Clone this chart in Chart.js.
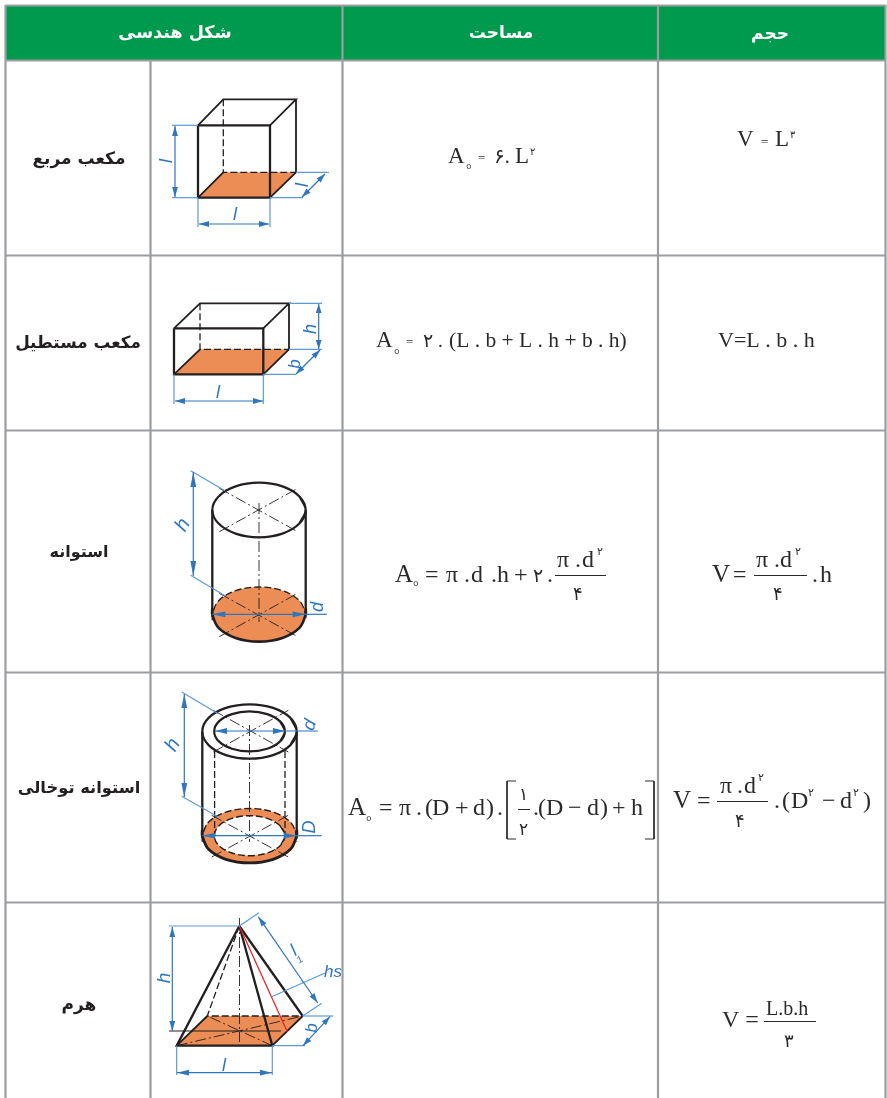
<!DOCTYPE html>
<html lang="fa"><head><meta charset="utf-8">
<script src="https://cdn.jsdelivr.net/npm/chart.js@4"></script>
<style>html,body{margin:0;padding:0;background:#fff}canvas{display:block}</style>
</head><body><canvas id="c" width="887" height="1098"></canvas>
<script>
// ---------- table ----------
const headerLabels=[['شکل هندسی',175,38,17.5],['مساحت',501,38,17],['حجم',770,39,17]];
const rowLabels=[['مکعب مربع',79,164,17],['مکعب مستطیل',78,348,16.8],['استوانه',79,557,16],['استوانه توخالی',79,793,16.3],['هرم',79,1010,17]];
const headerBand=[6,6,885,6,885,60,6,60];
const gridLines=[[5.5,5.5,885.5,5.5],[5.5,60.5,885.5,60.5],[5.5,255.5,885.5,255.5],[5.5,430.5,885.5,430.5],[5.5,672.5,885.5,672.5],[5.5,902.5,885.5,902.5],
 [5.5,5,5.5,1098],[150.5,60,150.5,1098],[342.5,5,342.5,1098],[658,5,658,1098],[885.5,5,885.5,1098]];
// ---------- ellipse outlines ----------
const cylTop=[305.7,510,299.4,523.6,282.4,533.6,259,537.3,235.6,533.6,218.6,523.6,212.3,510,218.6,496.4,235.6,486.4,259,482.7,282.4,486.4,299.4,496.4];
const cylBase=[305.7,614.3,299.4,627.9,282.4,637.9,259,641.6,235.6,637.9,218.6,627.9,212.3,614.3,218.6,600.7,235.6,590.7,259,587,282.4,590.7,299.4,600.7];
const tubeTopOuter=[296.7,731.5,290.4,745.1,273.1,755.1,249.5,758.7,225.9,755.1,208.6,745.1,202.3,731.5,208.6,717.9,225.9,707.9,249.5,704.3,273.1,707.9,290.4,717.9];
const tubeTopInner=[284.9,731.4,280.1,741.4,267.2,748.7,249.5,751.4,231.9,748.7,218.9,741.4,214.2,731.4,218.9,721.4,231.9,714.1,249.5,711.4,267.2,714.1,280.1,721.4];
const tubeBaseOuter=[296.7,835.7,290.4,849.3,273.1,859.3,249.5,862.9,225.9,859.3,208.6,849.3,202.3,835.7,208.6,822.1,225.9,812.1,249.5,808.5,273.1,812.1,290.4,822.1];
const tubeBaseInner=[284.9,835.7,280.1,845.7,267.2,853,249.5,855.7,231.9,853,218.9,845.7,214.2,835.7,218.9,825.7,231.9,818.4,249.5,815.7,267.2,818.4,280.1,825.7];
// ---------- filled floors ----------
const floorPolys=[[198,197.7,270,197.7,296,172.3,223.3,172.3],[174,374.3,263.3,374.3,289,349.3,200,349.3],[176.7,1045.7,272.3,1045.7,302.7,1016,207.3,1016]];
// ---------- solid black edges ----------
const heavyEdges=[[198,125.3,270,125.3,270,197.7,198,197.7,198,125.3],[174,328.3,263.3,328.3,263.3,374.3,174,374.3,174,328.3],
 [212.3,510,212.3,614.3],[305.7,510,305.7,614.3],[202.3,731.5,202.3,835.7],[296.7,731.5,296.7,835.7],
 [239.3,926,176.7,1045.7,272.3,1045.7,239.3,926],[239.3,926,302.7,1016]];
const lightEdges=[[198,125.3,223.3,99.3,296,99.3,270,125.3],[296,99.3,296,172.3,270,197.7],[198,197.7,223.3,172.3],
 [174,328.3,200,303.3,289,303.3,263.3,328.3],[289,303.3,289,349.3,263.3,374.3],[174,374.3,200,349.3],
 [272.3,1045.7,302.7,1016],[176.7,1045.7,207.3,1016]];
const dashedEdges=[[223.3,99.3,223.3,172.3,296,172.3],[200,303.3,200,349.3,289,349.3],[214.6,751,214.6,835.7],[285,751,285,835.7],[239.3,926,207.3,1016,302.7,1016]];
const centerLines=[[259,503,259,622],[219.3,531.7,297.7,488.3],[219.3,488.3,297.7,531.7],[219.3,636.7,297.7,593.3],[219.3,593.3,297.7,636.7],
 [249.5,725,249.5,842],[213.3,752,288.3,710.3],[213.3,710.3,288.3,752],[211.7,857,288.3,815.3],[211.7,815.3,288.3,857],
 [239.5,918,239.5,1042],[176.7,1045.7,302.7,1016],[272.3,1045.7,207.3,1016]];
const redEdges=[[239.3,926,287.3,1031.7]];
const darkThin=[[169,1031,281,1031]];
// ---------- blue dimension work ----------
const extLines=[[172,125.3,198,125.3],[172,197.7,198,197.7],[198,198,198,227],[270,198,270,227],[270,197.7,303,197.7],[296,172.3,329,172.3],
 [289,303.3,322,303.3],[289,349.3,322,349.3],[263.3,374.3,296,374.3],[174,374.3,174,404],[263.3,374.3,263.3,404],
 [190.7,470.7,225,490.7],[190.7,575.3,225,595.7],[181.7,692,218.3,713.7],[181.7,796.3,218.3,817],
 [169,926,239.3,926],[239.3,926,259,912.7],[302.7,1016,321.7,1003.3],[271.7,996.7,325,973],[302.7,1016,333.3,1016],[272.3,1045.7,305,1045.7],
 [176.7,1045.7,176.7,1075],[272.3,1045.7,272.3,1075]];
// x1,y1,x2,y2,head length at each end
const dimArrows=[[175,126,175,197,10],[199,224,269,224,10],[302,197,325,174,9],
 [318.7,304,318.7,349,9],[175,401,263,401,10],[296,374,320,350,9],
 [193.3,472,193.3,576,15],[184.3,694,184.3,797,14],
 [172.3,927,172.3,1031,10],[258.3,916.7,317.7,1003,10],[303,1045.7,330,1016.7,9],[177,1072.7,272,1072.7,12]];
const crossArrows=[[212.3,614.3,305.7,614.3,13],[215,731,285,731,12],[202.3,835.7,296.7,835.7,13]];
const leaders=[[305,614.3,326.7,614.3],[285,731,317.7,731],[296,835.7,321.7,835.7]];
const dimLabels=[['l',167,161,-90,18],['l',235,215,0,18],['l',303,185,-90,18],['h',311,329,-90,18],['b',295,364,-90,17],['l',218,393,0,18],
 ['h',183,525,-60,20],['d',318,607,-90,18],['h',173,745,-60,20],['d',310,725,-70,18],['D',310,827,-90,18],
 ['h',165,978,-90,19],['l',294,951,-35,18],['1',300,960,-35,10],['hs',333,972,0,17],['b',312,1028,-90,17],['l',224,1066,0,18]];
// ---------- formula pieces: text, left x, baseline y, size ----------
const formulaPieces=[
 ['A',448,163,23],['°',466,174,14],['=',478,162,13],['۶.',494,163,20],['L',515,163,23],['۲',530,155,10],
 ['V',737,146,23],['=',761,146,13],['L',775,146,23],['۳',790,138,10],
 ['A',376,347,23],['°',394,359,14],['=',406,346,13],['۲ .',423,347,19],['(L . b + L . h + b . h)',449,347,21.5],
 ['V=L . b . h',718,347,22],
 ['A',395,582,25],['°',413,591,14],['=',425,582,24],['π',446,582,24],['.',464,582,24],['d',471,582,24],['.',491,582,24],['h',497,582,24],['+',514,582,24],['۲',533,582,19],['.',547,582,24],
 ['π',557,567,24],['.',575,567,24],['d',582,567,24],['۲',597,555,11],['۴',573,600,18],
 ['V',712,582,25],['=',733,582,24],['π',756,567,24],['.',774,567,24],['d',780,567,24],['۲',795,555,11],['۴',773,600,18],['.',812,582,24],['h',820,582,24],
 ['A',348,815,25],['°',366,826,14],['=',379,815,24],['π',399,815,24],['.',416,815,24],['(',425,815,24],['D',432,815,24],['+',455,815,24],['d',473,815,24],[')',486,815,24],['.',497,815,24],
 ['۱',519,800,17],['۲',519,835,17],['.',533,815,24],['(',538,815,24],['D',546,815,24],['−',568,815,24],['d',587,815,24],[')',600,815,24],['+',612,815,24],['h',631,815,24],
 ['V',673,808,25],['=',697,808,24],['π',720,793,24],['.',737,793,24],['d',744,793,24],['۲',758,781,11],['۴',735,827,18],['.',774,808,24],['(',782,808,24],['D',791,808,24],['۲',808,796,11],['−',822,808,24],['d',840,808,24],['۲',853,796,11],[')',863,808,24],
 ['V =',722,1027,24],['L.b.h',766,1015,20],['۳',784,1047,18]];
const mathRules=[[555,575.5,606,575.5],[754,575.5,807,575.5],[518,809.5,530,809.5],[717,801.5,768,801.5],[764,1021.5,816,1021.5],
 [516,781,507,781,507,839,516,839],[645,781,654,781,654,839,645,839]];

const INK='#231f20',BLUE='#2f76bd',PALE='#5d9ad6',ORANGE='#eb8d54',GREEN='#009a4e',GRID='#9c9da1';
const datasets=[];
const toPts=f=>{const a=[];for(let i=0;i<f.length;i+=2)a.push({x:f[i],y:f[i+1]});return a;};
function add(flat,o={}){datasets.push({data:toPts(flat),showLine:true,pointRadius:0,pointHoverRadius:0,
 borderColor:o.color||'transparent',borderWidth:o.width===undefined?1:o.width,borderDash:o.dash||[],
 backgroundColor:o.fillColor||'transparent',fill:o.fillColor?'shape':false,tension:o.tension||0,
 borderCapStyle:o.cap||'butt',borderJoinStyle:'miter',order:-datasets.length});}
const loop=e=>[...e.slice(-2),...e,...e.slice(0,4)];
// part of an ellipse; guard points running along the cylinder side keep the ends tangent to it
const arc=(e,a,b,guard)=>{const out=[];for(let i=a;i<=b;i++){const k=(i%12)*2;out.push(e[k],e[k+1]);}
 return [out[0],out[1]+guard,...out,out[out.length-2],out[out.length-1]+guard];};
function head(x,y,dx,dy,len,col){const n=Math.hypot(dx,dy),ux=dx/n,uy=dy/n,w=2.9;
 add([x,y,x-ux*len-uy*w,y-uy*len+ux*w,x-ux*len+uy*w,y-uy*len-ux*w,x,y],{fillColor:col});}

add(headerBand,{fillColor:GREEN});
gridLines.forEach(l=>add(l,{color:GRID,width:2.2}));
floorPolys.forEach(p=>add(p,{fillColor:ORANGE}));
add(loop(cylBase),{fillColor:ORANGE,tension:.35});
add(loop(tubeBaseOuter),{fillColor:ORANGE,tension:.35});
add(loop(tubeBaseInner),{fillColor:'#ffffff',tension:.35});
centerLines.forEach(l=>add(l,{color:INK,width:.9,dash:[11,3,2,3]}));
dashedEdges.forEach(l=>add(l,{color:INK,width:1.3,dash:[7,3]}));
lightEdges.forEach(l=>add(l,{color:INK,width:1.8}));
heavyEdges.forEach(l=>add(l,{color:INK,width:2.3}));
add(loop(cylTop),{color:INK,width:2.2,tension:.35});
add(arc(cylBase,0,6,-6),{color:INK,width:2.6,tension:.35});
add(arc(cylBase,6,12,6),{color:INK,width:1.3,dash:[7,3],tension:.35});
add(loop(tubeTopOuter),{color:INK,width:2.2,tension:.35});
add(loop(tubeTopInner),{color:INK,width:2.2,tension:.35});
add(arc(tubeBaseOuter,0,6,-6),{color:INK,width:2.8,tension:.35});
add(arc(tubeBaseOuter,6,12,6),{color:INK,width:1.4,dash:[7,3],tension:.35});
add(loop(tubeBaseInner),{color:INK,width:1.4,dash:[7,3],tension:.35});
redEdges.forEach(l=>add(l,{color:'#e8262b',width:1.3}));
darkThin.forEach(l=>add(l,{color:INK,width:1}));
extLines.forEach(l=>add(l,{color:PALE,width:1.2}));
leaders.forEach(l=>add(l,{color:BLUE,width:1.2}));
dimArrows.forEach(([a,b,c,d,len])=>{add([a,b,c,d],{color:BLUE,width:1.2});head(a,b,a-c,b-d,len,BLUE);head(c,d,c-a,d-b,len,BLUE);});
crossArrows.forEach(([a,b,c,d,len])=>{add([a,b,c,d],{color:BLUE,width:1.2});head(a,b,a-c,b-d,len,BLUE);head(c,d,c-a,d-b,len,BLUE);});
mathRules.forEach(l=>add(l,{color:'#2b2a2a',width:1}));

const tableText={id:'tableText',afterDatasetsDraw(chart){
 const {ctx,scales:{x,y}}=chart;ctx.save();ctx.textBaseline='alphabetic';
 ctx.direction='rtl';ctx.textAlign='center';
 ctx.fillStyle='#ffffff';headerLabels.forEach(([t,a,b,s])=>{ctx.font=`bold ${s}px "DejaVu Sans"`;ctx.fillText(t,x.getPixelForValue(a),y.getPixelForValue(b));});
 ctx.fillStyle=INK;rowLabels.forEach(([t,a,b,s])=>{ctx.font=`bold ${s}px "DejaVu Sans"`;ctx.fillText(t,x.getPixelForValue(a),y.getPixelForValue(b));});
 ctx.direction='ltr';ctx.textAlign='left';ctx.fillStyle='#2b2a2a';
 formulaPieces.forEach(([t,a,b,s])=>{ctx.font=`${s}px "Liberation Serif","DejaVu Sans"`;ctx.fillText(t,x.getPixelForValue(a),y.getPixelForValue(b));});
 ctx.textAlign='center';ctx.textBaseline='middle';ctx.fillStyle=BLUE;
 dimLabels.forEach(([t,a,b,r,s])=>{ctx.save();ctx.translate(x.getPixelForValue(a),y.getPixelForValue(b));ctx.rotate(r*Math.PI/180);
  ctx.font=`italic ${s}px "Liberation Sans"`;ctx.fillText(t,0,0);ctx.restore();});
 ctx.restore();}};

new Chart(document.getElementById('c'),{type:'scatter',data:{datasets},plugins:[tableText],options:{
 responsive:false,animation:false,layout:{padding:0},events:[],
 plugins:{legend:{display:false},tooltip:{enabled:false},title:{display:false}},
 scales:{x:{type:'linear',min:0,max:887,display:false},y:{type:'linear',min:0,max:1098,reverse:true,display:false}}}});
</script></body></html>
